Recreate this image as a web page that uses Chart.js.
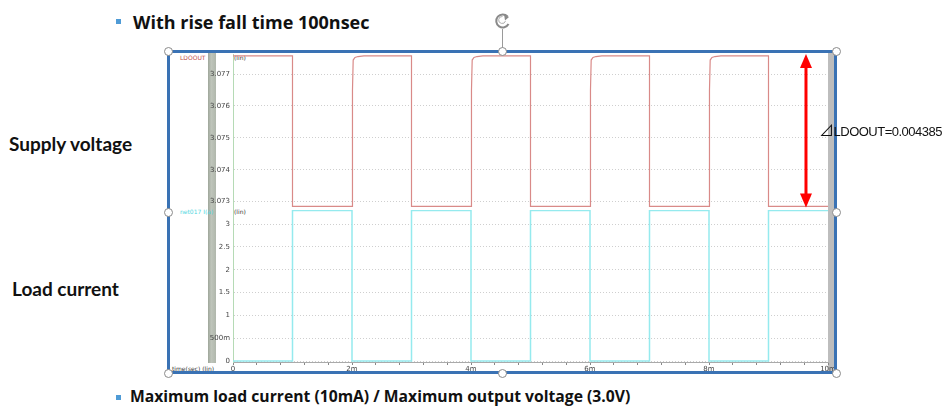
<!DOCTYPE html>
<html>
<head>
<meta charset="utf-8">
<script src="https://cdn.jsdelivr.net/npm/chart.js@4.4.1/dist/chart.umd.min.js"></script>
<style>
  html, body { margin: 0; padding: 0; background: #fff; }
  body { width: 946px; height: 408px; position: relative; overflow: hidden; font-family: Lato, "Open Sans", sans-serif; }
  .abs { position: absolute; }
  .bullet { position: absolute; width: 5px; height: 5px; background: #4f9bd6; }
  .slideText { position: absolute; font-family: "Open Sans", sans-serif; font-weight: bold; color: #111; white-space: nowrap; line-height: 1; }
  .sideLabel { position: absolute; font-family: Lato, sans-serif; font-weight: bold; font-size: 19px; color: #111; white-space: nowrap; line-height: 1; }
  .tiny { position: absolute; font-family: "DejaVu Sans", sans-serif; font-size: 6px; white-space: nowrap; }
  .handle { position: absolute; width: 9px; height: 9px; border-radius: 50%; background: #fff; border: 1px solid #8a8a8a; box-sizing: border-box; margin: -4.5px 0 0 -4.5px; z-index: 5; }
  canvas { position: absolute; }
</style>
</head>
<body>

<div class="bullet" style="left:116px; top:19px;"></div>
<div class="slideText" style="left:133px; top:13px; font-size:18px;">With rise fall time 100nsec</div>

<div class="sideLabel" style="left:9px; top:134px;">Supply voltage</div>
<div class="sideLabel" style="left:12px; top:279px;">Load current</div>

<div class="bullet" style="left:116px; top:395px;"></div>
<div class="slideText" style="left:130px; top:389px; font-size:15.7px;">Maximum load current (10mA) / Maximum output voltage (3.0V)</div>

<!-- rotate handle -->
<svg class="abs" style="left:492px; top:10px;" width="22" height="42">
  <path d="M15.5 6.5 A6.5 6.5 0 1 0 16.5 14" fill="none" stroke="#8a8a8a" stroke-width="2"/>
  <path d="M12 4 L17 7 L13 10.5 Z" fill="#8a8a8a"/>
  <path d="M10.5 6.5 A3.5 3.5 0 1 0 13.5 11" fill="none" stroke="#b0b0b0" stroke-width="1"/>
  <line x1="10.5" y1="19" x2="10.5" y2="42" stroke="#9a9a9a" stroke-width="1"/>
</svg>

<!-- waveform viewer pieces -->
<div class="abs" style="left:208px; top:53px; width:8px; height:310px; background:linear-gradient(90deg,#9ea69a,#bfc5bb 40%,#b0b7ac);"></div>
<div class="abs" style="left:828px; top:52px; width:7px; height:319px; background:#bdbdbd;"></div>
<div class="tiny" style="left:180px; top:54px; color:#c0504d;">LDOOUT</div>
<div class="tiny" style="left:180px; top:208px; color:#4fd6e0;">net017 I(a)</div>
<div class="tiny" style="left:234px; top:54px; color:#333;">(lin)</div>
<div class="tiny" style="left:234px; top:208px; color:#333;">(lin)</div>
<div class="tiny" style="left:172px; top:365px; color:#333;">time(sec) (lin)</div>

<canvas id="ldoChart" width="664" height="158" style="left:170px; top:52px;"></canvas>
<canvas id="loadChart" width="664" height="162" style="left:170px; top:210px;"></canvas>

<div class="abs" style="left:819px; top:119px; font-family:'Liberation Sans', Arial, sans-serif; font-size:13px; letter-spacing:-0.5px; color:#111; white-space:nowrap; z-index:6;"><span style="font-family:'Noto Sans CJK JP'; font-size:15px;">⊿</span>LDOOUT=0.004385</div>

<!-- selection frame -->
<div class="abs" style="left:167px; top:50px; width:670px; height:324px; border:3px solid #3a72b4; box-sizing:border-box; z-index:4;"></div>
<div class="handle" style="left:168px; top:51px;"></div>
<div class="handle" style="left:502px; top:51px;"></div>
<div class="handle" style="left:836px; top:51px;"></div>
<div class="handle" style="left:168px; top:212px;"></div>
<div class="handle" style="left:836px; top:212px;"></div>
<div class="handle" style="left:168px; top:373px;"></div>
<div class="handle" style="left:502px; top:373px;"></div>
<div class="handle" style="left:836px; top:373px;"></div>

<script>
// LDOOUT (V) vs time (ms)
const ldoTime = [0, 1, 1, 2, 2.008, 2.02, 2.05, 2.1, 2.2, 3, 3, 4, 4.008, 4.02, 4.05, 4.1, 4.2, 5, 5, 6, 6.008, 6.02, 6.05, 6.1, 6.2, 7, 7, 8, 8.008, 8.02, 8.05, 8.1, 8.2, 9, 9, 10];
const ldoVolt = [3.07757, 3.07757, 3.07285, 3.07285, 3.0765, 3.07744, 3.07752, 3.07755, 3.07757, 3.07757, 3.07285, 3.07285, 3.0765, 3.07744, 3.07752, 3.07755, 3.07757, 3.07757, 3.07285, 3.07285, 3.0765, 3.07744, 3.07752, 3.07755, 3.07757, 3.07757, 3.07285, 3.07285, 3.0765, 3.07744, 3.07752, 3.07755, 3.07757, 3.07757, 3.07285, 3.07285];

// load current step points (stepped line)
const loadTime = [0, 1, 2, 3, 4, 5, 6, 7, 8, 9, 10];
const loadValue = [0, 3.3, 0, 3.3, 0, 3.3, 0, 3.3, 0, 3.3, 3.3];

const ldoTicks = [3.073, 3.074, 3.075, 3.076, 3.077];
const loadTicks = [0, 0.5, 1, 1.5, 2, 2.5, 3];
const loadTickLabels = ['0', '500m', '1', '1.5', '2', '2.5', '3'];
const timeLabels = ['0', '2m', '4m', '6m', '8m', '10m'];

const tickFont = { family: 'DejaVu Sans', size: 7 };

// no label overhang padding, so the plot area keeps its exact size
function fixYAxis(s) {
    s.width = 63;
    s.paddingTop = 0;
    s.paddingBottom = 0;
}

// double-headed red arrow across the voltage swing
const arrowPlugin = {
    id: 'deltaArrow',
    afterDatasetsDraw(chart) {
        const ctx = chart.ctx;
        const x = chart.scales.x.getPixelForValue(9.63);
        const yTop = chart.scales.y.getPixelForValue(Math.max(...ldoVolt)) - 2;
        const yBot = chart.scales.y.getPixelForValue(Math.min(...ldoVolt)) + 1;
        ctx.save();
        ctx.strokeStyle = '#ff0000';
        ctx.fillStyle = '#ff0000';
        ctx.lineWidth = 3;
        ctx.beginPath();
        ctx.moveTo(x, yTop + 12);
        ctx.lineTo(x, yBot - 12);
        ctx.stroke();
        ctx.beginPath();
        ctx.moveTo(x, yTop); ctx.lineTo(x - 6, yTop + 14); ctx.lineTo(x + 6, yTop + 14); ctx.closePath();
        ctx.fill();
        ctx.beginPath();
        ctx.moveTo(x, yBot); ctx.lineTo(x - 6, yBot - 14); ctx.lineTo(x + 6, yBot - 14); ctx.closePath();
        ctx.fill();
        ctx.restore();
    }
};

const ldoCtx = document.getElementById('ldoChart').getContext('2d');
const ldoChart = new Chart(ldoCtx, {
    type: 'line',
    data: {
        datasets: [{
            label: 'LDOOUT',
            data: ldoTime.map((t, i) => ({ x: t, y: ldoVolt[i] })),
            borderColor: '#d98a88',
            borderWidth: 1.2,
            pointRadius: 0,
            tension: 0,
            clip: 4
        }]
    },
    options: {
        responsive: false,
        animation: false,
        layout: { padding: { top: 2, right: 6, bottom: 1, left: 0 } },
        plugins: { legend: { display: false }, tooltip: { enabled: false } },
        scales: {
            x: { type: 'linear', min: 0, max: 10, display: false },
            y: {
                min: 3.07277,
                max: 3.07763,
                afterFit: fixYAxis,
                afterBuildTicks: s => { s.ticks = ldoTicks.map(v => ({ value: v })); },
                ticks: { font: tickFont, color: '#444', padding: 3, callback: v => v.toFixed(3) },
                grid: { color: '#cfcfcf', drawTicks: false },
                border: { display: true, color: '#b5dab5', dash: [1, 2] }
            }
        }
    },
    plugins: [arrowPlugin]
});

const loadCtx = document.getElementById('loadChart').getContext('2d');
const loadChart = new Chart(loadCtx, {
    type: 'line',
    data: {
        datasets: [{
            label: 'net017',
            data: loadTime.map((t, i) => ({ x: t, y: loadValue[i] })),
            borderColor: '#95eaee',
            borderWidth: 1.5,
            stepped: true,
            pointRadius: 0,
            clip: 4
        }]
    },
    options: {
        responsive: false,
        animation: false,
        layout: { padding: { top: 0, right: 6, bottom: 0, left: 0 } },
        plugins: { legend: { display: false }, tooltip: { enabled: false } },
        scales: {
            x: {
                type: 'linear',
                min: 0,
                max: 10,
                afterFit: s => { s.height = 10; s.paddingLeft = 0; s.paddingRight = 0; },
                afterBuildTicks: s => {
                    const t = [];
                    for (let i = 0; i <= 25; i++) t.push({ value: Math.round(i * 4) / 10 });
                    s.ticks = t;
                },
                ticks: {
                    font: tickFont, color: '#444', padding: 0, autoSkip: false, maxRotation: 0,
                    callback: (v, i) => (i % 5 === 0 ? timeLabels[i / 5] : '')
                },
                grid: { drawOnChartArea: false, drawTicks: true, tickLength: 3, color: '#888' },
                border: { display: true, color: '#aaa' }
            },
            y: {
                min: -0.02,
                max: 3.31,
                afterFit: fixYAxis,
                afterBuildTicks: s => { s.ticks = loadTicks.map(v => ({ value: v })); },
                ticks: { font: tickFont, color: '#444', padding: 3, callback: (v, i) => loadTickLabels[i] },
                grid: { color: '#cfcfcf', drawTicks: false },
                border: { display: true, color: '#b5dab5', dash: [1, 2] }
            }
        }
    }
});
</script>
</body>
</html>
